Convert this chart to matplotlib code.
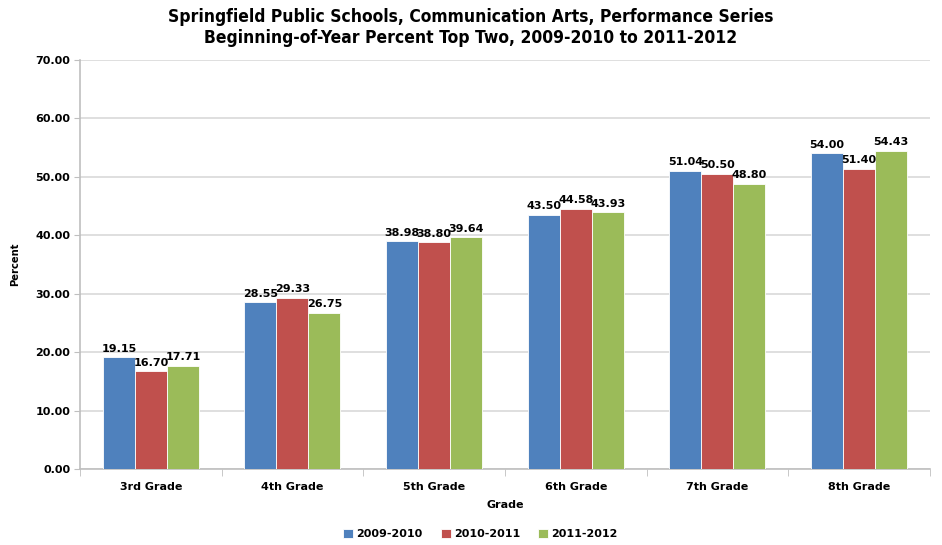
import matplotlib
matplotlib.use("Agg")
import matplotlib.pyplot as plt
import numpy as np
from matplotlib import font_manager as fm

grades = ["3rd Grade", "4th Grade", "5th Grade", "6th Grade", "7th Grade", "8th Grade"]
series_names = ["2009-2010", "2010-2011", "2011-2012"]
v2009 = [19.15, 28.55, 38.98, 43.50, 51.04, 54.00]
v2010 = [16.70, 29.33, 38.80, 44.58, 50.50, 51.40]
v2011 = [17.71, 26.75, 39.64, 43.93, 48.80, 54.43]
colors = ["#4F81BD", "#C0504D", "#9BBB59"]

fig = plt.figure(figsize=(9.42, 5.45), dpi=100)
ax = fig.add_axes([0.085, 0.1394, 0.902, 0.7505])

x = np.arange(len(grades))
w = 0.226
for i, (vals, c, nm) in enumerate(zip([v2009, v2010, v2011], colors, series_names)):
    pos = x + (i - 1) * w
    ax.bar(pos, vals, width=w, color=c, edgecolor="white", linewidth=0.6, label=nm, zorder=3)
    for p, v in zip(pos, vals):
        ax.text(p, v + 0.6, f"{v:.2f}", ha="center", va="bottom", fontsize=8,
                fontweight="bold", family="DejaVu Sans", zorder=4)

ax.set_xlim(-0.5, len(grades) - 0.5)
ax.set_ylim(0, 70)
ax.set_yticks(np.arange(0, 71, 10))
ax.set_yticklabels([f"{t:.2f}" for t in np.arange(0, 71, 10)], fontsize=8, fontweight="bold")
ax.set_xticks(x)
ax.set_xticklabels(grades, fontsize=8, fontweight="bold")
ax.set_xticks(np.arange(-0.5, len(grades), 1), minor=True)
ax.tick_params(axis="x", which="major", length=0, pad=9)
ax.tick_params(axis="x", which="minor", length=5, color="#BFBFBF", direction="out")
ax.tick_params(axis="y", length=4, color="#BFBFBF", direction="out", pad=3)
ax.grid(axis="y", color="#D9D9D9", linewidth=1.2, zorder=0)
for s in ["top", "right"]:
    ax.spines[s].set_visible(False)
for s in ["left", "bottom"]:
    ax.spines[s].set_color("#BFBFBF")
    ax.spines[s].set_linewidth(1.2)

ax.set_xlabel("Grade", fontsize=8, fontweight="bold", labelpad=6)

tf = fm.FontProperties(family="DejaVu Sans", weight="bold", stretch="condensed", size=12.5)
fig.text(0.016, 0.515, "Percent", rotation=90, ha="center", va="center",
         fontproperties=fm.FontProperties(family="DejaVu Sans", weight="bold", stretch="condensed", size=8))

t1 = fig.text(0.5, 0.968, "Springfield Public Schools, Communication Arts, Performance Series",
              ha="center", va="center", fontproperties=tf)
t2 = fig.text(0.5, 0.931, "Beginning-of-Year Percent Top Two, 2009-2010 to 2011-2012",
              ha="center", va="center", fontproperties=tf)
fig.canvas.draw()
wpx = t1.get_window_extent().width
if wpx > 640:
    s = 12.5 * 605 / wpx
    t1.set_fontsize(s)
    t2.set_fontsize(s)

fig.legend(loc="center", bbox_to_anchor=(0.51, 0.02), ncol=3, frameon=False,
           prop={"size": 8, "weight": "bold"}, handlelength=0.9, handleheight=0.9,
           handletextpad=0.3, columnspacing=1.6)

fig.savefig("out.png", dpi=100)
